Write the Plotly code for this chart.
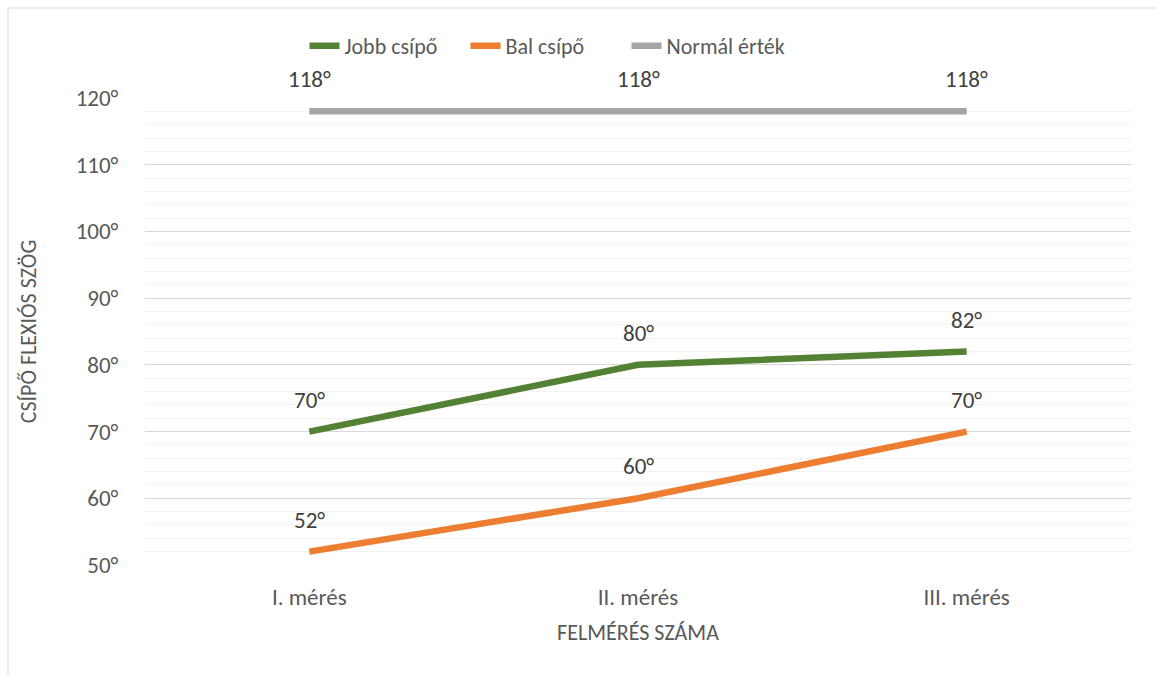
import plotly.graph_objects as go

# Measurement rounds and hip flexion angles (degrees)
categories = ["I. mérés", "II. mérés", "III. mérés"]
jobb_csipo = [70, 80, 82]
bal_csipo = [52, 60, 70]
normal_ertek = [118, 118, 118]

series = [
    ("Jobb csípő", jobb_csipo, "#548235"),
    ("Bal csípő", bal_csipo, "#ED7D31"),
    ("Normál érték", normal_ertek, "#A5A5A5"),
]

FONT = "Carlito, Lato, 'Open Sans', sans-serif"
TEXT = "#595959"

fig = go.Figure()
annotations = []
for name, values, color in series:
    fig.add_trace(go.Scatter(
        x=categories, y=values, name=name, mode="lines",
        line=dict(color=color, width=6.5),
    ))
    for cat, v in zip(categories, values):
        annotations.append(dict(
            x=cat, y=v, text=f"{v}°", showarrow=False,
            yshift=32, font=dict(size=23, color="#404040", family=FONT),
        ))

W, H = 1157, 675
L, R, T, B = 145, 26, 98, 110
pw, ph = W - L - R, H - T - B

fig.update_layout(
    width=W, height=H,
    margin=dict(l=L, r=R, t=T, b=B),
    paper_bgcolor="white", plot_bgcolor="white",
    font=dict(family=FONT, color=TEXT),
    annotations=annotations,
    legend=dict(
        orientation="h", x=(546 - L) / pw, xanchor="center",
        y=1 + (T - 46) / ph, yanchor="middle",
        font=dict(size=22, color=TEXT),
        itemwidth=30, tracegroupgap=0, entrywidth=116,
    ),
    xaxis=dict(
        type="category", range=[-0.5, 2.5],
        showgrid=False, zeroline=False, showline=False,
        ticks="outside", ticklen=11, tickcolor="rgba(0,0,0,0)",
        tickfont=dict(size=23, color=TEXT),
        title=dict(text="FELMÉRÉS SZÁMA", font=dict(size=22, color=TEXT), standoff=15),
    ),
    yaxis=dict(
        range=[50, 120], dtick=10, tick0=50, ticksuffix="°",
        showgrid=True, gridcolor="#D9D9D9", gridwidth=1,
        minor=dict(dtick=2, showgrid=True, gridcolor="#F2F2F2", gridwidth=1),
        zeroline=False, showline=False,
        ticks="outside", ticklen=21, tickcolor="rgba(0,0,0,0)",
        tickfont=dict(size=23, color=TEXT),
        title=dict(text="CSÍPŐ FLEXIÓS SZÖG", font=dict(size=22, color=TEXT), standoff=32),
    ),
    shapes=[dict(
        type="rect", xref="paper", yref="paper",
        x0=(8 - L) / pw, x1=(W + 5 - L) / pw,
        y0=-(H + 5 - T - ph) / ph, y1=1 + (T - 8) / ph,
        line=dict(color="#D9D9D9", width=1), fillcolor="rgba(0,0,0,0)",
        layer="below",
    )],
)

fig.write_html("out.html")
